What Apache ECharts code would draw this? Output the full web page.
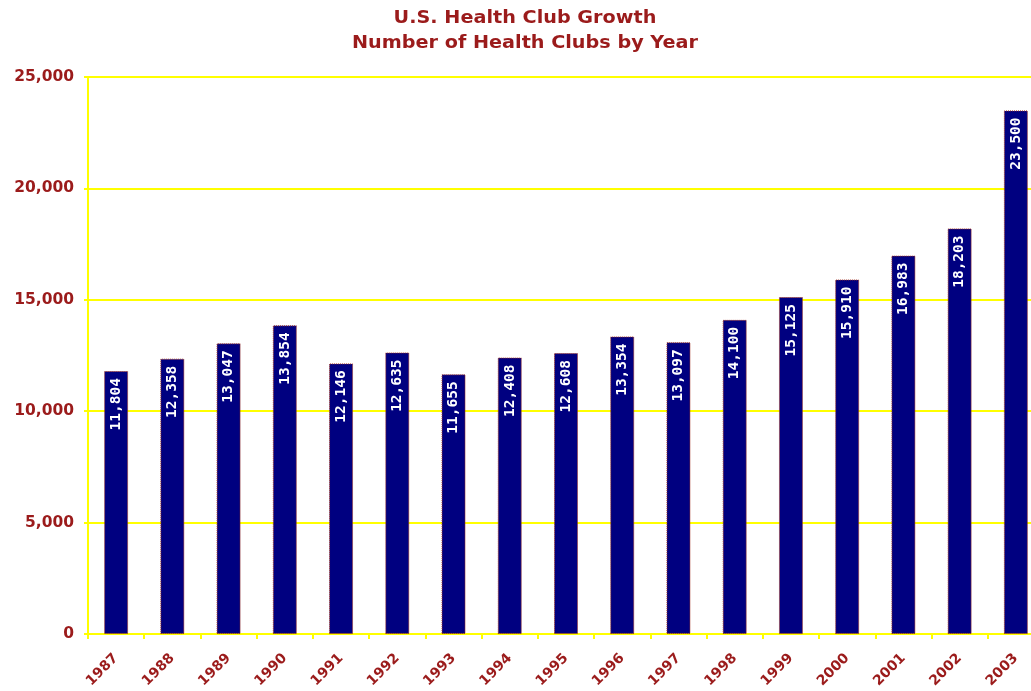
<!DOCTYPE html>
<html>
<head>
<meta charset="utf-8">
<script src="https://cdn.jsdelivr.net/npm/echarts@6/dist/echarts.min.js"></script>
<style>html,body{margin:0;padding:0;background:#fff;overflow:hidden;width:1031px;height:691px;}#c{width:1044px;height:691px;}</style>
</head>
<body>
<div id="c"></div>
<script>
const years = ['1987','1988','1989','1990','1991','1992','1993','1994','1995','1996','1997','1998','1999','2000','2001','2002','2003'];
const clubs = [11804, 12358, 13047, 13854, 12146, 12635, 11655, 12408, 12608, 13354, 13097, 14100, 15125, 15910, 16983, 18203, 23500];
const yTicks = [0, 5000, 10000, 15000, 20000, 25000];
const titleLines = ['U.S. Health Club Growth', 'Number of Health Clubs by Year'];

const red = '#9b1b1b';
const chart = echarts.init(document.getElementById('c'));
const titleStyle = { fill: red, fontFamily: 'DejaVu Sans', fontWeight: 'bold', fontSize: 17, textAlign: 'center', textVerticalAlign: 'middle' };
chart.setOption({
  animation: false,
  backgroundColor: '#fff',
  graphic: [
    { type: 'text', x: 525, y: 19, scaleX: 1.13, style: Object.assign({ text: titleLines[0] }, titleStyle) },
    { type: 'text', x: 525, y: 44, scaleX: 1.13, style: Object.assign({ text: titleLines[1] }, titleStyle) }
  ],
  grid: { left: 88, right: 0, top: 77, bottom: 57, containLabel: false },
  xAxis: {
    type: 'category', data: years,
    axisLine: { lineStyle: { color: '#ffff00', width: 2 } },
    axisTick: { show: true, lineStyle: { color: '#ffff00', width: 2 }, length: 5 },
    axisLabel: { rotate: 45, color: red, fontFamily: 'DejaVu Sans', fontWeight: 'bold', fontSize: 14, margin: 22 }
  },
  yAxis: {
    type: 'value', min: yTicks[0], max: yTicks[yTicks.length - 1], interval: yTicks[1] - yTicks[0],
    axisLine: { show: true, lineStyle: { color: '#ffff00', width: 2 } },
    axisTick: { show: true, length: 4, lineStyle: { color: '#ffff00', width: 2 } },
    splitLine: { lineStyle: { color: '#ffff00', width: 2 } },
    axisLabel: {
      color: red, fontFamily: 'DejaVu Sans', fontWeight: 'bold', fontSize: 15.5, margin: 14,
      formatter: v => v.toLocaleString('en-US')
    }
  },
  series: [{
    type: 'bar', data: clubs, barWidth: 24,
    itemStyle: { color: '#000080', borderColor: '#a03020', borderWidth: 1, borderType: 'dotted' },
    label: {
      show: true, position: 'insideTop', rotate: 90, align: 'right', verticalAlign: 'middle', distance: 7,
      color: '#fff', fontFamily: 'DejaVu Sans Mono', fontWeight: 'bold', fontSize: 14.5,
      formatter: p => p.value.toLocaleString('en-US')
    }
  }]
});
</script>
</body>
</html>
